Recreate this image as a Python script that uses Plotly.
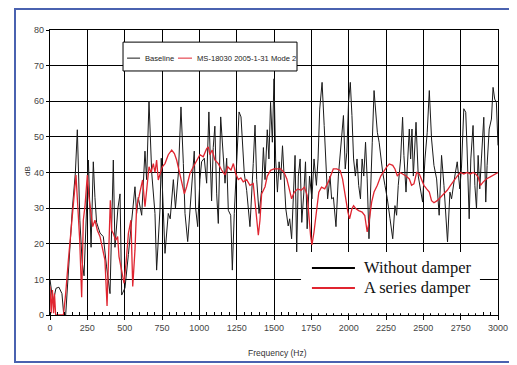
import plotly.graph_objects as go

# ---- data ----
base_hz = [0, 20, 40, 60, 80, 92, 105, 125, 150, 170, 183, 200, 215, 228, 245, 257, 275, 290, 301, 312,
           335, 357, 379, 402, 424, 435, 455, 469, 480, 502, 525, 547, 569, 580, 591, 614, 636, 647, 663, 681,
           703, 714, 737, 745, 770, 792, 805, 826, 840, 860, 877, 893, 904, 922, 937, 948, 966, 975, 989, 1004,
           1015, 1033, 1049, 1064, 1082, 1093, 1104, 1116, 1127, 1143, 1160, 1172, 1183, 1194, 1210, 1221, 1234, 1250, 1266, 1279,
           1290, 1301, 1317, 1339, 1361, 1373, 1384, 1400, 1417, 1429, 1440, 1455, 1466, 1477, 1489, 1500, 1511, 1523, 1534, 1545,
           1557, 1568, 1579, 1595, 1605, 1618, 1632, 1641, 1652, 1663, 1675, 1686, 1700, 1711, 1722, 1738, 1754, 1768, 1784, 1795,
           1806, 1822, 1836, 1845, 1859, 1875, 1886, 1898, 1915, 1931, 1950, 1965, 1977, 1988, 1999, 2011, 2022, 2033, 2045, 2056,
           2067, 2079, 2090, 2101, 2113, 2124, 2136, 2147, 2158, 2170, 2181, 2192, 2204, 2215, 2228, 2243, 2259, 2277, 2295, 2310,
           2321, 2332, 2348, 2361, 2370, 2384, 2395, 2406, 2415, 2424, 2433, 2451, 2466, 2482, 2495, 2511, 2526, 2540, 2555, 2571,
           2589, 2606, 2622, 2638, 2651, 2662, 2678, 2689, 2711, 2727, 2744, 2755, 2771, 2784, 2793, 2807, 2818, 2833, 2845, 2856,
           2867, 2878, 2889, 2905, 2918, 2927, 2941, 2956, 2967, 2978, 2989, 3000]
base_db = [10, 3.5, 7.5, 7.8, 6, 0, 0, 15, 30, 40, 52, 26.6, 15, 11, 30, 43.5, 19, 43, 33, 26,
           23, 22, 13.5, 6, 43.5, 19, 30, 34, 5.6, 7.6, 17, 26, 36, 28.5, 33, 28, 46, 38, 60, 40,
           28.5, 12.6, 30, 44, 17.3, 28.5, 27, 38, 30, 40, 58.4, 42.5, 28.5, 20.6, 30, 35, 46, 30, 24.8, 38,
           43, 44, 37, 57, 32, 47, 53, 34, 25.7, 55.6, 42.5, 37, 44, 29.4, 28, 12.6, 28.5, 42.5, 57, 55.6,
           46, 39.7, 35, 24.8, 42.5, 53.3, 38, 28.5, 35, 47, 38, 52, 43.8, 59.7, 48.5, 66.3, 43.8, 34.5, 43, 38,
           47.5, 37.3, 29.8, 25, 27, 21.4, 34.5, 44.8, 17.7, 39, 43.8, 26, 34.5, 43, 24.2, 39, 32.6, 43.8, 36.4, 43.8,
           57.8, 65.3, 53.2, 43.8, 32.6, 39, 32.6, 33, 24.8, 39, 48.5, 56, 41, 45.7, 59.7, 65.3, 56, 43.8, 39, 43.8,
           36.4, 32.6, 43.8, 39, 48.5, 38.2, 21.4, 32.6, 48.5, 63, 57, 51.3, 48.5, 43.8, 40, 36.4, 32.6, 27, 21.4, 30.7,
           28, 36.4, 43.8, 55.5, 44.8, 34.5, 45.7, 52.2, 43.8, 52.2, 39, 54.1, 39, 34.5, 31.7, 43.8, 51.3, 63, 49.4, 42,
           38.2, 28, 44.8, 36.4, 28, 20.5, 34.5, 32.6, 39, 43, 35.4, 41, 57.9, 56.9, 46.6, 27, 43.8, 53.2, 36.4, 29.8,
           44.8, 35.4, 43.8, 55.5, 31.7, 42, 52.2, 55, 63.9, 60.6, 59.7, 47.6]

damp_hz = [0, 8, 16, 24, 30, 38, 90, 105, 123, 145, 163, 174, 185, 199, 212, 223, 234, 250, 261, 272,
           286, 301, 317, 335, 350, 368, 382, 391, 404, 413, 424, 440, 453, 462, 480, 496, 509, 525, 542, 554,
           569, 580, 596, 609, 620, 636, 648, 663, 676, 692, 703, 714, 725, 752, 770, 792, 815, 833, 848, 864,
           882, 900, 915, 937, 960, 982, 1004, 1026, 1049, 1060, 1071, 1086, 1104, 1127, 1149, 1172, 1190, 1212, 1228, 1243,
           1261, 1278, 1294, 1317, 1339, 1361, 1373, 1384, 1395, 1406, 1417, 1440, 1455, 1477, 1500, 1523, 1545, 1568, 1586, 1602,
           1618, 1636, 1659, 1682, 1704, 1722, 1734, 1745, 1754, 1768, 1784, 1800, 1818, 1840, 1863, 1881, 1897, 1920, 1943, 1959,
           1972, 1984, 1995, 2006, 2022, 2033, 2049, 2067, 2090, 2108, 2124, 2136, 2154, 2170, 2192, 2215, 2238, 2254, 2272, 2295,
           2310, 2326, 2344, 2361, 2384, 2406, 2421, 2437, 2455, 2473, 2488, 2504, 2522, 2540, 2555, 2571, 2593, 2615, 2638, 2660,
           2682, 2704, 2727, 2749, 2771, 2793, 2815, 2833, 2850, 2867, 2883, 2900, 2922, 2945, 2967, 2989, 3000]
damp_db = [8, 0.5, 7, 0.5, 6, 0, 0, 6, 15.4, 26.6, 35, 39.3, 31.3, 21, 5, 26.6, 30.4, 39.3, 33, 28.5,
           24.8, 26.6, 23.8, 22, 19.2, 15.4, 2.5, 15.4, 32.2, 23.8, 22.9, 21, 22, 16.4, 12.6, 8.9, 14.5, 22.9, 26.6, 8,
           18.2, 30.4, 33.2, 36, 37.9, 30.4, 35, 41.6, 40, 42.5, 40, 43.5, 37.9, 41.6, 42.5, 45, 46.3, 45.3, 43.5, 40.7,
           38, 34, 36, 39.7, 41.6, 43.5, 45, 44.4, 46.7, 47.2, 45, 46.3, 43.5, 42.5, 40.7, 39.3, 41.6, 40.7, 42.5, 39.7,
           38, 38.5, 37.4, 38, 36.4, 36.9, 32.2, 26.6, 22.4, 26.6, 34, 36, 39, 40.6, 41, 41, 41, 40, 38.2, 35.4,
           32.6, 34.5, 35.4, 35, 35.9, 33.6, 27, 22.3, 19.7, 23.3, 28.9, 34.5, 35.9, 35.4, 37.3, 39, 41, 41, 40.6, 38.2,
           34.5, 31.7, 28.9, 27, 29.8, 30.7, 29.8, 29.3, 28.9, 27.9, 23.3, 26, 31.7, 34.5, 36.4, 39, 40.6, 41.5, 42.4, 42,
           41, 39, 40, 39.6, 39, 38.2, 36.4, 36.8, 40, 39.6, 38.2, 36.4, 35.4, 34.5, 32.1, 31.5, 32.1, 33.1, 34, 35,
           36.4, 37.8, 39, 40, 39.6, 40, 39.6, 40, 39.6, 38.7, 36.4, 37.3, 38.2, 38.7, 39.2, 39.6, 40]

x_ticks = [0, 250, 500, 750, 1000, 1250, 1500, 1750, 2000, 2250, 2500, 2750, 3000]
y_ticks = [0, 10, 20, 30, 40, 50, 60, 70, 80]
legend1_names = ["Baseline", "MS-18030 2005-1-31 Mode 2"]
legend2_names = ["Without damper", "A series damper"]

BLACK = "#1a1a1a"
RED = "#e02530"
SANS = "Liberation Sans, Arial, sans-serif"

# page body has an 8px default margin: the figure is drawn 8px in and 8px down,
# so the figure is sized / margined to land the plot where the reference has it.
W, H = 509, 357
ML, MT = 42, 22
PW, PH = 448, 285
MR, MB = W - ML - PW, H - MT - PH


def px(x):
    return (x - 8 - ML) / PW


def py(y):
    return (MT + PH - (y - 8)) / PH


fig = go.Figure()
fig.add_trace(go.Scatter(x=base_hz, y=base_db, mode="lines", line=dict(color=BLACK, width=1), showlegend=False))
fig.add_trace(go.Scatter(x=damp_hz, y=damp_db, mode="lines", line=dict(color=RED, width=1.3), showlegend=False))

tickfont = dict(family=SANS, size=9, color="#444444")
fig.update_xaxes(range=[0, 3000], tickvals=x_ticks, ticktext=[str(v) for v in x_ticks],
                 showgrid=True, gridcolor="#000000", gridwidth=1.2, zeroline=False,
                 showline=True, linecolor="#000000", linewidth=1.2, mirror=True,
                 ticks="outside", ticklen=4, tickcolor="#000000", tickfont=tickfont,
                 minor=dict(dtick=50, ticks="inside", ticklen=3, tickcolor="#000000", showgrid=False))
fig.update_yaxes(range=[0, 80], tickvals=y_ticks, ticktext=[str(v) for v in y_ticks],
                 showgrid=True, gridcolor="#000000", gridwidth=1.2, zeroline=False,
                 showline=True, linecolor="#000000", linewidth=1.2, mirror=True,
                 ticks="outside", ticklen=3, tickcolor="#000000", tickfont=tickfont)

shapes = []
annotations = []
# outer blue frame
shapes.append(dict(type="rect", xref="paper", yref="paper", x0=px(15), x1=px(513), y0=py(362), y1=py(9),
                   line=dict(color="#4a62b0", width=2), fillcolor="rgba(0,0,0,0)", layer="below"))
# legend 1 box
shapes.append(dict(type="rect", xref="x", yref="y", x0=489, x1=1654, y0=68.5, y1=76.6,
                   line=dict(color="#000000", width=1), fillcolor="#ffffff", layer="above"))
shapes.append(dict(type="line", xref="x", yref="y", x0=516, x1=603, y0=72.1, y1=72.1,
                   line=dict(color=BLACK, width=1), layer="above"))
shapes.append(dict(type="line", xref="x", yref="y", x0=857, x1=951, y0=72.1, y1=72.1,
                   line=dict(color=RED, width=1), layer="above"))
lfont = dict(family=SANS, size=7.6, color="#222222")
annotations.append(dict(x=620, y=72.1, xref="x", yref="y", text=legend1_names[0], showarrow=False,
                        xanchor="left", yanchor="middle", font=lfont))
annotations.append(dict(x=968, y=72.1, xref="x", yref="y", text=legend1_names[1], showarrow=False,
                        xanchor="left", yanchor="middle", font=lfont))
# legend 2 box
shapes.append(dict(type="rect", xref="x", yref="y", x0=1681, x1=2879, y0=0.5, y1=17.7,
                   line=dict(width=0), fillcolor="#ffffff", layer="above"))
shapes.append(dict(type="line", xref="x", yref="y", x0=1754, x1=2042, y0=13.2, y1=13.2,
                   line=dict(color="#000000", width=2), layer="above"))
shapes.append(dict(type="line", xref="x", yref="y", x0=1754, x1=2042, y0=7.6, y1=7.6,
                   line=dict(color=RED, width=2), layer="above"))
sfont = dict(family="Liberation Serif, Times New Roman, serif", size=16.5, color="#111111")
annotations.append(dict(x=2090, y=13.4, xref="x", yref="y", text=legend2_names[0], showarrow=False,
                        xanchor="left", yanchor="middle", font=sfont))
annotations.append(dict(x=2090, y=7.8, xref="x", yref="y", text=legend2_names[1], showarrow=False,
                        xanchor="left", yanchor="middle", font=sfont))
# axis titles
annotations.append(dict(x=px(277), y=py(353), xref="paper", yref="paper",
                        text="Frequency (Hz)", showarrow=False, xanchor="center", yanchor="middle",
                        font=dict(family=SANS, size=8.5, color="#333333")))
annotations.append(dict(x=px(27), y=py(171), xref="paper", yref="paper",
                        text="dB", showarrow=False, textangle=-90, xanchor="center", yanchor="middle",
                        font=dict(family=SANS, size=8, color="#333333")))

fig.update_layout(width=W, height=H, margin=dict(l=ML, r=MR, t=MT, b=MB, autoexpand=False),
                  paper_bgcolor="#ffffff", plot_bgcolor="#ffffff", showlegend=False,
                  shapes=shapes, annotations=annotations)

fig.write_html("out.html")
